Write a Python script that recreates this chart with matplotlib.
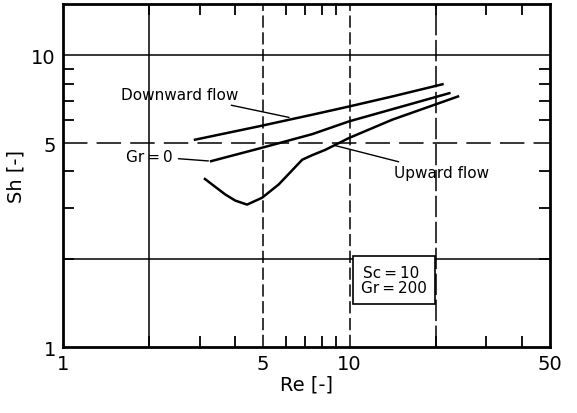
import numpy as np
import matplotlib.pyplot as plt
from matplotlib.ticker import FixedLocator, NullFormatter

# curves (Re, Sh)
re_down = [2.89, 4.82, 7.41, 9.96, 14.1, 21.1]
sh_down = [5.14, 5.71, 6.26, 6.68, 7.23, 7.96]

re_gr0 = [3.29, 4.82, 7.41, 9.96, 22.3]
sh_gr0 = [4.34, 4.79, 5.37, 5.94, 7.42]

re_up = [3.13, 3.68, 3.99, 4.39, 4.95, 5.66, 6.84, 7.41, 8.25, 9.96, 14.1, 23.9]
sh_up = [3.77, 3.34, 3.18, 3.08, 3.25, 3.61, 4.39, 4.55, 4.75, 5.21, 6.02, 7.23]

xticks = [1, 5, 10, 50]
yticks = [1, 5, 10]

plt.rcParams['font.family'] = ['DejaVu Sans']

fig = plt.figure(figsize=(5.77, 4.14), dpi=100)
ax = fig.add_axes([0.109, 0.159, 0.844, 0.829])
ax.set_xscale('log')
ax.set_yscale('log')
ax.set_xlim(1, 50)
ax.set_ylim(1, 15)

# grid lines
for gx, ls in [(2, '-'), (5, (0, (8, 3))), (10, (0, (8, 3))), (20, (0, (14, 3)))]:
    ax.axvline(gx, color='black', lw=1.1, ls=ls, zorder=1)
for gy, ls in [(2, '-'), (5, (0, (16, 6))), (10, '-')]:
    ax.axhline(gy, color='black', lw=1.1, ls=ls, zorder=1)

ax.plot(re_down, sh_down, color='black', lw=1.8, zorder=3)
ax.plot(re_gr0, sh_gr0, color='black', lw=1.8, zorder=3)
ax.plot(re_up, sh_up, color='black', lw=1.8, zorder=3)

# labels with leader lines
fs = 11
ax.annotate('Downward flow', xy=(6.29, 6.1), xytext=(4.1, 7.35),
            ha='right', va='center', fontsize=fs,
            arrowprops=dict(arrowstyle='-', color='black', lw=1))
ax.annotate('Gr\u2009=\u20090', xy=(3.29, 4.34), xytext=(2.42, 4.5),
            ha='right', va='center', fontsize=fs,
            arrowprops=dict(arrowstyle='-', color='black', lw=1))
ax.annotate('Upward flow', xy=(8.68, 4.94), xytext=(14.3, 3.96),
            ha='left', va='center', fontsize=fs,
            arrowprops=dict(arrowstyle='-', color='black', lw=1))
ax.text(14.3, 1.70, 'Sc\u2009=\u200910 \nGr\u2009=\u2009200', ha='center', va='center',
        fontsize=fs, linespacing=1.05,
        bbox=dict(boxstyle='square,pad=0.55', fc='white', ec='black', lw=1.2))

ax.xaxis.set_major_locator(FixedLocator(xticks))
ax.xaxis.set_minor_locator(FixedLocator([2, 3, 4, 6, 7, 8, 9, 20, 30, 40]))
ax.yaxis.set_major_locator(FixedLocator(yticks))
ax.yaxis.set_minor_locator(FixedLocator([2, 3, 4, 6, 7, 8, 9]))
ax.set_xticklabels([str(v) for v in xticks])
ax.set_yticklabels([str(v) for v in yticks])
ax.xaxis.set_minor_formatter(NullFormatter())
ax.yaxis.set_minor_formatter(NullFormatter())
ax.tick_params(which='both', direction='in', top=True, right=True,
               width=1.3, labelsize=14)
ax.tick_params(which='major', length=0, pad=5)
ax.tick_params(which='minor', length=8)
for s in ax.spines.values():
    s.set_linewidth(2)

ax.set_xlabel('Re [-]', fontsize=14, labelpad=1)
ax.set_ylabel('Sh [-]', fontsize=14, labelpad=4)

fig.savefig('out.png', dpi=100)
